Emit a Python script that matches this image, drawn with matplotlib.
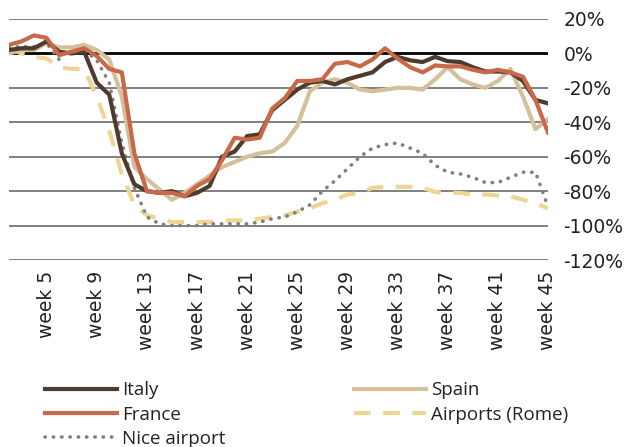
import matplotlib
matplotlib.use("Agg")
import matplotlib.pyplot as plt

plt.rcParams['font.family'] = ['Open Sans', 'DejaVu Sans']

weeks = list(range(2, 46))

italy = [2, 3, 3, 7, 1, 0, 1, -17, -24, -58, -76, -80, -81, -80, -83, -81, -77, -60, -57, -48,
         -47, -33, -27, -21, -17, -16, -18, -15, -13, -11, -5, -2, -4, -5, -2, -4.5, -5, -8,
         -10.5, -10.5, -11, -16, -27, -29]
france = [5, 7, 10.5, 9, -1, 1, 3, -1.5, -9, -11, -58, -80, -81, -81, -83, -77, -73, -62, -49, -50,
          -49, -32, -26, -16, -16, -15, -6, -5, -7.5, -3.5, 3, -3, -8, -11, -7, -7.5, -7.5, -9.5,
          -11, -9.5, -11, -13.5, -27, -46]
spain = [0, 2, 2, 6, 3.5, 3.5, 5, 2, -3.5, -25, -66, -73, -79, -85, -81, -76, -71, -66, -63, -60,
         -58, -57, -52, -42, -22, -17, -15, -17, -21, -22, -21, -20, -20, -21, -15, -8, -15, -18,
         -20, -16, -9, -25, -44, -38]
rome = [3, 0, -2, -3, -8, -9, -9, -25, -45, -70, -88, -94, -96, -98, -98, -98, -98, -97, -97, -97,
        -96, -95, -94, -92, -90, -87, -85, -82, -81, -78, -77.5, -77.5, -77.5, -78, -80.5, -81,
        -81, -82, -82, -82.5, -83, -85, -87, -90]
nice = [3.5, 4, 4, 6, -3.5, 4.5, 2, -4, -17, -52, -78, -95, -99, -100, -100, -100, -99, -99, -99,
        -99, -98, -96, -95, -92, -88, -80, -74, -67, -60, -55, -53, -52, -55, -58, -65, -69, -70,
        -72, -75, -75, -72, -69, -69, -89]

tick_weeks = list(range(5, 46, 4))
tick_labels = ['week %d' % w for w in tick_weeks]
y_ticks = list(range(20, -121, -20))

fig = plt.figure(figsize=(6.3, 4.47), dpi=100)
ax = fig.add_axes([9 / 630, 1 - 260 / 447, 539 / 630, 241 / 447])

for y in y_ticks:
    if y == 0:
        ax.axhline(y, color='black', lw=2, zorder=1)
    else:
        ax.axhline(y, color='#5e5e5e', lw=1.1, zorder=1)

l_rome, = ax.plot(weeks, rome, color='#efd592', lw=3, ls=(0, (4, 3)), label='Airports (Rome)')
l_nice, = ax.plot(weeks, nice, color='#808080', lw=2.6, ls=(0, (0.1, 2.2)),
                  dash_capstyle='round', label='Nice airport')
l_spain, = ax.plot(weeks, spain, color='#d4c09a', lw=3, label='Spain')
l_italy, = ax.plot(weeks, italy, color='#4e3b2e', lw=3, label='Italy')
l_france, = ax.plot(weeks, france, color='#c8694a', lw=3, label='France')

ax.set_xlim(2, 45)
ax.set_ylim(-120, 20)
ax.set_xticks(tick_weeks)
ax.set_xticklabels(tick_labels, rotation=90, fontsize=13.5, color='#222222',
                   family='DejaVu Sans')
ax.yaxis.tick_right()
ax.set_yticks(y_ticks)
ax.set_yticklabels(['%d%%' % y for y in y_ticks], fontsize=13.5, color='#222222',
                   family='DejaVu Sans')
ax.tick_params(length=0, pad=11)
ax.tick_params(axis='x', pad=8)
for s in ax.spines.values():
    s.set_visible(False)

leg1 = fig.legend(handles=[l_italy, l_france, l_nice], loc='upper left',
                  bbox_to_anchor=(36 / 630, 1 - 372 / 447), frameon=False, fontsize=13.5,
                  handlelength=3.8, handletextpad=0.3, labelspacing=0.33, borderpad=0)
leg2 = fig.legend(handles=[l_spain, l_rome], loc='upper left',
                  bbox_to_anchor=(345 / 630, 1 - 372 / 447), frameon=False, fontsize=13.5,
                  handlelength=3.8, handletextpad=0.3, labelspacing=0.33, borderpad=0)
for leg in (leg1, leg2):
    for t in leg.get_texts():
        t.set_color('#222222')

fig.savefig('out.png', dpi=100)
